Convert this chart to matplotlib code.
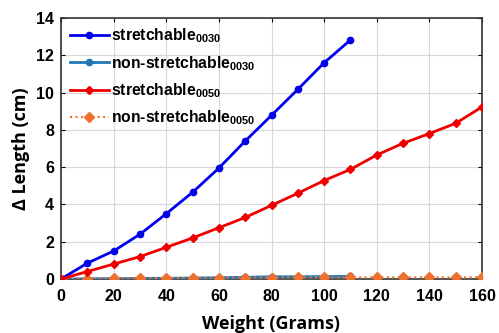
import matplotlib
matplotlib.use("Agg")
import matplotlib.pyplot as plt

weights_0030 = [0, 10, 20, 30, 40, 50, 60, 70, 80, 90, 100, 110]
weights_0050 = [0, 10, 20, 30, 40, 50, 60, 70, 80, 90, 100, 110, 120, 130, 140, 150, 160]
stretch_0030 = [0, 0.85, 1.5, 2.4, 3.5, 4.65, 5.95, 7.4, 8.78, 10.17, 11.6, 12.82]
nonstretch_0030 = [0, 0.01, 0.02, 0.03, 0.04, 0.05, 0.07, 0.09, 0.12, 0.12, 0.13, 0.14]
stretch_0050 = [0, 0.4, 0.8, 1.2, 1.7, 2.2, 2.75, 3.3, 3.95, 4.6, 5.28, 5.88, 6.65, 7.28, 7.8, 8.35, 9.23]
nonstretch_0050 = [0, 0.02, 0.03, 0.04, 0.05, 0.06, 0.07, 0.08, 0.08, 0.09, 0.09, 0.09, 0.09, 0.09, 0.09, 0.09, 0.09]

labels = [r'stretchable$_{\mathbf{0030}}$', r'non-stretchable$_{\mathbf{0030}}$',
          r'stretchable$_{\mathbf{0050}}$', r'non-stretchable$_{\mathbf{0050}}$']

plt.rcParams['font.family'] = 'Liberation Sans'
plt.rcParams['font.weight'] = 'bold'
plt.rcParams['mathtext.fontset'] = 'custom'
plt.rcParams['mathtext.bf'] = 'Liberation Sans:bold'
plt.rcParams['mathtext.rm'] = 'Liberation Sans:bold'

fig = plt.figure(figsize=(4.99, 3.33), dpi=100)
ax = fig.add_axes([61/499, 1-279/333, (482-61)/499, (279-18)/333])

ax.plot(weights_0030, stretch_0030, color='#0000ee', lw=2, marker='o', ms=4.5, label=labels[0], zorder=4)
ax.plot(weights_0030, nonstretch_0030, color='#1f77b4', lw=2, marker='o', ms=4.5, label=labels[1], zorder=3)
ax.plot(weights_0050, stretch_0050, color='#ee0000', lw=2, marker='D', ms=4.5, label=labels[2], zorder=4)
ax.plot(weights_0050, nonstretch_0050, color='#f07030', lw=1.5, ls=':', marker='D', ms=5.5, label=labels[3], zorder=3)

ax.set_xlim(0, 160)
ax.set_ylim(0, 14)
ax.set_xticks(range(0, 161, 20))
ax.set_yticks(range(0, 15, 2))
ax.grid(True, color='#d8d8d8', lw=0.8)
ax.set_axisbelow(True)
ax.tick_params(direction='in', length=3, labelsize=11.5, right=True, top=True, width=0.8)
ax.tick_params(axis='x', pad=7)
ax.tick_params(axis='y', pad=5)
for s in ax.spines.values():
    s.set_color('#333333')
    s.set_linewidth(1.2)

ax.set_xlabel('Weight (Grams)', fontsize=13, fontweight='bold', family='Open Sans', labelpad=8)
ax.set_ylabel('Δ Length (cm)', fontsize=13, fontweight='bold', family='Open Sans', labelpad=4)

leg = ax.legend(loc='upper left', frameon=False, fontsize=11.3, handlelength=2.5,
                handletextpad=0.15, labelspacing=0.55, borderaxespad=0.15)

fig.savefig('out.png', dpi=100)
